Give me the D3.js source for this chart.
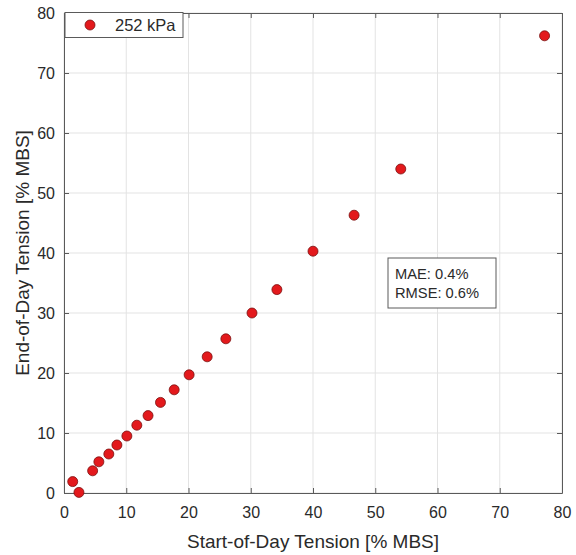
<!DOCTYPE html>
<html>
<head>
<meta charset="utf-8">
<script src="https://cdn.jsdelivr.net/npm/d3@7"></script>
<style>
  body { margin: 0; background: #fff; }
  text { font-family: "Liberation Sans", Arial, sans-serif; }
</style>
</head>
<body>
<svg id="chart"></svg>
<script>
// data
var startTension = [1.4, 2.4, 4.6, 5.6, 7.2, 8.5, 10.1, 11.7, 13.5, 15.5, 17.7, 20.1, 23.0, 26.0, 30.2, 34.2, 40.0, 46.6, 54.1, 77.2];
var endTension   = [1.9, 0.1, 3.7, 5.2, 6.5, 8.0, 9.5, 11.3, 12.9, 15.1, 17.2, 19.7, 22.7, 25.7, 30.0, 33.9, 40.3, 46.3, 54.0, 76.2];
var seriesName = "252 kPa";
var xTicks = [0, 10, 20, 30, 40, 50, 60, 70, 80];
var yTicks = [0, 10, 20, 30, 40, 50, 60, 70, 80];
var statLines = ["MAE: 0.4%", "RMSE: 0.6%"];

var points = startTension.map(function(d, i) { return {x: d, y: endTension[i]}; });

var margin = {top: 13, right: 14, bottom: 62, left: 64},
    width = 576 - margin.left - margin.right,
    height = 555 - margin.top - margin.bottom;

var svg = d3.select("#chart")
    .attr("width", 576)
    .attr("height", 555)
    .append("g")
    .attr("transform", "translate(" + margin.left + "," + margin.top + ")");

var x = d3.scaleLinear().domain([0, 80]).range([0, width]);
var y = d3.scaleLinear().domain([0, 80]).range([height, 0]);

// gridlines
svg.append("g")
    .selectAll("line")
    .data(xTicks)
    .enter().append("line")
    .attr("x1", function(d) { return x(d); })
    .attr("x2", function(d) { return x(d); })
    .attr("y1", 0)
    .attr("y2", height)
    .attr("stroke", "#e3e3e3");

svg.append("g")
    .selectAll("line")
    .data(yTicks)
    .enter().append("line")
    .attr("y1", function(d) { return y(d); })
    .attr("y2", function(d) { return y(d); })
    .attr("x1", 0)
    .attr("x2", width)
    .attr("stroke", "#e3e3e3");

// axes (MATLAB style box with inward ticks)
svg.append("g")
    .attr("transform", "translate(0," + height + ")")
    .call(d3.axisBottom(x).tickValues(xTicks).tickSizeInner(-5).tickSizeOuter(0).tickPadding(14));
svg.append("g")
    .call(d3.axisLeft(y).tickValues(yTicks).tickSizeInner(-5).tickSizeOuter(0).tickPadding(9));
svg.append("g")
    .call(d3.axisTop(x).tickValues(xTicks).tickSizeInner(-5).tickSizeOuter(0).tickFormat(""));
svg.append("g")
    .attr("transform", "translate(" + width + ",0)")
    .call(d3.axisRight(y).tickValues(yTicks).tickSizeInner(-5).tickSizeOuter(0).tickFormat(""));

svg.selectAll(".domain").attr("stroke", "#5a5a5a");
svg.selectAll(".tick line").attr("stroke", "#5a5a5a");
svg.selectAll(".tick text")
    .attr("fill", "#2a2a2a")
    .style("font-size", "16px");

// axis labels
svg.append("text")
    .attr("x", width / 2)
    .attr("y", height + 55)
    .attr("text-anchor", "middle")
    .attr("fill", "#2a2a2a")
    .style("font-size", "19px")
    .text("Start-of-Day Tension [% MBS]");

svg.append("text")
    .attr("transform", "translate(-35," + (height / 2) + ") rotate(-90)")
    .attr("text-anchor", "middle")
    .attr("fill", "#2a2a2a")
    .style("font-size", "19px")
    .text("End-of-Day Tension [% MBS]");

// points
svg.selectAll(".dot")
    .data(points)
    .enter().append("circle")
    .attr("class", "dot")
    .attr("cx", function(d) { return x(d.x); })
    .attr("cy", function(d) { return y(d.y); })
    .attr("r", 5)
    .attr("fill", "#e3191c")
    .attr("stroke", "#7a1010")
    .attr("stroke-width", 0.8);

// legend
var legend = svg.append("g");
legend.append("rect")
    .attr("x", 1)
    .attr("y", -0.5)
    .attr("width", 118)
    .attr("height", 25)
    .attr("fill", "#fff")
    .attr("stroke", "#5a5a5a");
legend.append("circle")
    .attr("cx", 26)
    .attr("cy", 12)
    .attr("r", 5)
    .attr("fill", "#e3191c")
    .attr("stroke", "#7a1010")
    .attr("stroke-width", 0.8);
legend.append("text")
    .attr("x", 51)
    .attr("y", 18)
    .attr("fill", "#2a2a2a")
    .style("font-size", "16.5px")
    .text(seriesName);

// stats box
var stats = svg.append("g")
    .attr("transform", "translate(" + (388 - margin.left) + "," + (258 - margin.top) + ")");
stats.append("rect")
    .attr("width", 108)
    .attr("height", 50)
    .attr("fill", "#fff")
    .attr("stroke", "#5a5a5a");
stats.selectAll("text")
    .data(statLines)
    .enter().append("text")
    .attr("x", 7)
    .attr("y", function(d, i) { return 21 + i * 19; })
    .attr("fill", "#2a2a2a")
    .style("font-size", "14.7px")
    .text(function(d) { return d; });
</script>
</body>
</html>
